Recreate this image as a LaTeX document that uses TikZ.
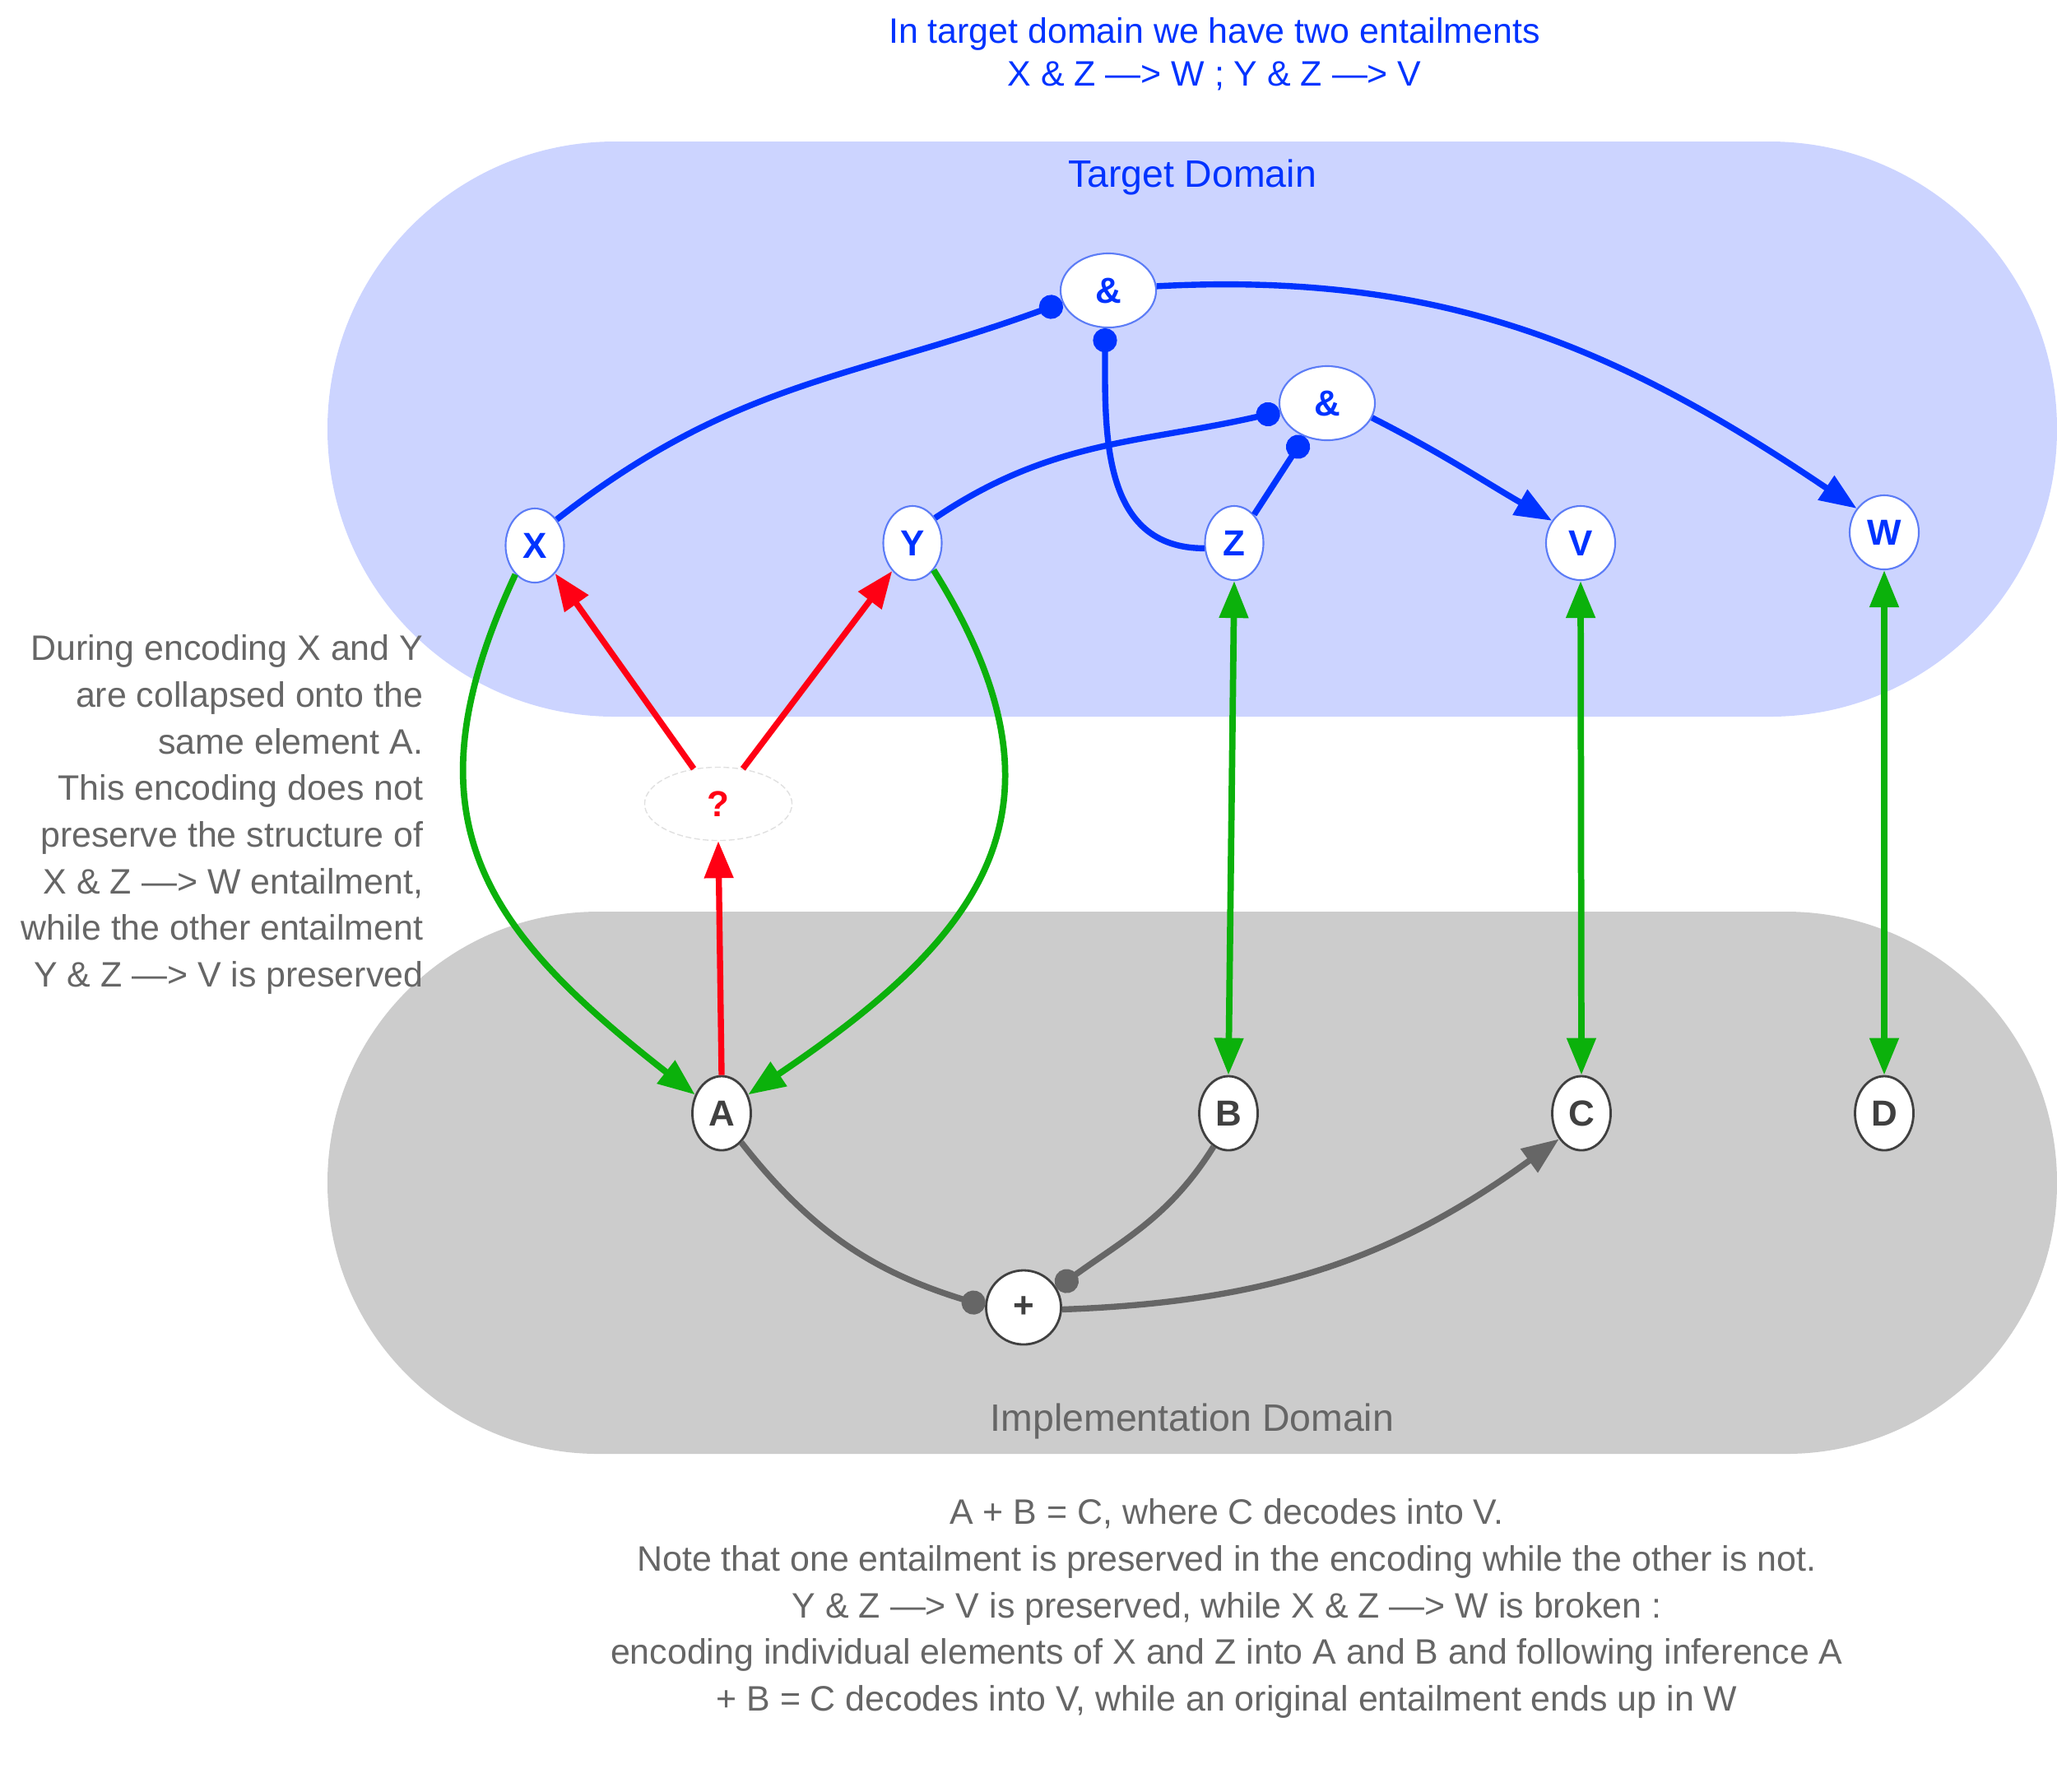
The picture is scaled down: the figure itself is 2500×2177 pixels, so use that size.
\documentclass[tikz,border=0pt]{standalone}
\usepackage{fontspec}
\setmainfont{Liberation Sans}
\usetikzlibrary{arrows.meta,shapes.geometric}
\definecolor{tblue}{RGB}{0,51,255}
\definecolor{tfill}{RGB}{204,212,255}
\definecolor{nborder}{RGB}{92,124,246}
\definecolor{ifill}{RGB}{204,204,204}
\definecolor{dgray}{RGB}{64,64,64}
\definecolor{egray}{RGB}{102,102,102}
\definecolor{ggreen}{RGB}{11,177,11}
\definecolor{rred}{RGB}{255,0,20}
\begin{document}
\begin{tikzpicture}[x=0.01cm,y=0.01cm,
  basenode/.style={ellipse, fill=white, inner sep=0pt, font=\fontsize{12.5}{14}\selectfont\bfseries},
  bnode/.style={basenode, draw=nborder, line width=0.6pt, text=tblue, minimum width=0.71cm, minimum height=0.9cm},
  gnode/.style={basenode, draw=dgray, line width=0.8pt, text=dgray, minimum width=0.71cm, minimum height=0.9cm},
  qnode/.style={basenode, draw=black!12, line width=0.4pt, dash pattern=on 2pt off 1pt, text=rred, minimum width=1.79cm, minimum height=0.89cm},
  anno/.style={inner sep=0pt, text=egray, font=\fontsize{12.2}{16.1}\selectfont},
  bedge/.style={draw=tblue, line width=2.1pt},
  redge/.style={draw=rred, line width=2.1pt},
  gedge/.style={draw=ggreen, line width=2.2pt},
  iedge/.style={draw=egray, line width=2.1pt},
  dotend/.style={-{Circle[length=8.3pt]}},
  arrowend/.style={-{Triangle[length=12.8pt,width=9.7pt]}},
  dblend/.style={{Triangle[length=12.8pt,width=9.7pt]}-{Triangle[length=12.8pt,width=9.7pt]}}
]
\useasboundingbox (0,0) rectangle (2500,-2177);

% domains
\fill[tfill, rounded corners=3.49cm] (398,-172) rectangle (2500,-871);
\fill[ifill, rounded corners=3.29cm] (398,-1108) rectangle (2500,-1767);

% texts
\node[inner sep=0pt, text=tblue, align=center, font=\fontsize{12.2}{14.8}\selectfont] (title) at (1476,-66)
  {In target domain we have two entailments\\X \& Z —> W ; Y \& Z —> V};
\node[inner sep=0pt, text=tblue, font=\fontsize{13.2}{15}\selectfont] (tlabel) at (1449,-215) {Target Domain};
\node[inner sep=0pt, text=egray, font=\fontsize{13.2}{15}\selectfont] (ilabel) at (1449,-1727) {Implementation Domain};
\node[anno, align=right, anchor=east] (lefttext) at (515,-990)
  {During encoding X and Y\\are collapsed onto the\\same element A.\\This encoding does not\\preserve the structure of\\X \& Z —> W entailment,\\while the other entailment\\Y \& Z —> V is preserved};
\node[anno, align=center] (bottomtext) at (1491,-1955)
  {A + B = C, where C decodes into V.\\Note that one entailment is preserved in the encoding while the other is not.\\Y \& Z —> V is preserved, while X \& Z —> W is broken :\\encoding individual elements of X and Z into A and B and following inference A\\+ B = C decodes into V, while an original entailment ends up in W};

% target nodes
\node[bnode, minimum width=1.16cm] (and1) at (1347,-353) {\&};
\node[bnode, minimum width=1.16cm] (and2) at (1613,-490) {\&};
\node[bnode] (X) at (650,-663) {X};
\node[bnode] (Y) at (1109,-660) {Y};
\node[bnode] (Z) at (1500,-660) {Z};
\node[bnode, minimum width=0.84cm] (V) at (1921,-660) {V};
\node[bnode, minimum width=0.84cm] (W) at (2290,-647) {W};
\node[qnode] (q) at (873,-977) {?};

% implementation nodes
\node[gnode] (A) at (877,-1353) {A};
\node[gnode] (B) at (1493,-1353) {B};
\node[gnode] (C) at (1922,-1353) {C};
\node[gnode] (D) at (2290,-1353) {D};
\node[gnode, minimum width=0.91cm] (plus) at (1244,-1589) {+};

% target edges
\draw[bedge,dotend] (X.50) to[out=38,in=200,looseness=1.05] (and1.195);
\draw[bedge,dotend] (Z.190) to[out=180,in=-90,looseness=1.1] (and1.265);
\draw[bedge,arrowend] (and1.5) to[out=3,in=146] (W.139);
\draw[bedge,dotend] (Y.48) to[out=34,in=193] (and2.190);
\draw[bedge,dotend] (Z.55) -- (and2.236);
\draw[bedge,arrowend] (and2.-18) to[out=-27,in=150] (V.142);

% red edges
\draw[redge,arrowend] (q.125) -- (X.-54);
\draw[redge,arrowend] (q.55) -- (Y.-126);
\draw[redge,arrowend] (A.north) -- (q.south);

% green edges
\draw[gedge,arrowend] (X.236) to[out=-115,in=142,looseness=1.25] (A.145);
\draw[gedge,arrowend] (Y.-52) to[out=-58,in=34,looseness=1.3] (A.35);
\draw[gedge,dblend] (Z.south) -- (B.north);
\draw[gedge,dblend] (V.south) -- (C.north);
\draw[gedge,dblend] (W.south) -- (D.north);

% implementation edges
\draw[iedge,dotend] (A.-56) to[out=-52,in=163] (plus.178);
\draw[iedge,dotend] (B.-114) to[out=-122,in=36] (plus.30);
\draw[iedge,arrowend] (plus.-3) to[out=2,in=216] (C.-131);
\end{tikzpicture}
\end{document}
